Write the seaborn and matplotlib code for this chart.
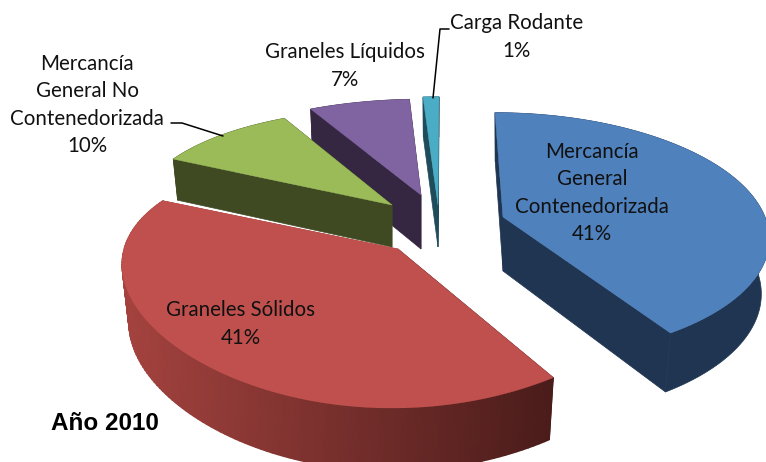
import numpy as np
import matplotlib
matplotlib.use("Agg")
import matplotlib.pyplot as plt
from matplotlib.colors import LinearSegmentedColormap
import seaborn as sns

# Data
categories = ["Mercancía\nGeneral\nContenedorizada", "Graneles Sólidos",
              "Mercancía\nGeneral No\nContenedorizada", "Graneles Líquidos", "Carga Rodante"]
values = [41, 41, 10, 7, 1]
chart_title = "Año 2010"

# Styles
top_colors = ["#4F81BD", "#C0504D", "#9BBB59", "#8064A2", "#4BACC6"]
side_left = ["#1F3552", "#A5433F", "#3F4A23", "#352742", "#1F4C5A"]
side_right = ["#1F3552", "#4A1C1A", "#3F4A23", "#352742", "#1F4C5A"]

# Layout: projection of each exploded slice
# (apex x, apex y, A, kx, C, B, ky, depth, depth perspective, bottom x scale)
proj = [
    (503, 217, 262, .15, -8, 120, .15, 54, .10, .97),
    (398, 249, 274, .10, 6, 124, .22, 58, .08, .975),
    (392, 205, 255, .10, 6, 118, .22, 42, .05, .98),
    (421, 195, 255, .10, 3, 117, .22, 54, .05, .98),
    (438, 205, 280, .10, 1, 132, .22, 42, .05, .98),
]
label_pos = [(592, 193), (241, 324), (87, 105), (345, 66), (517, 37)]

sns.set_theme(style="white")
plt.rcParams["font.family"] = ["Lato", "DejaVu Sans"]

fig, ax = plt.subplots(figsize=(7.66, 4.62), dpi=100)
fig.subplots_adjust(0, 0, 1, 1)


def project(p, th, r=1.0, bottom=False):
    ax0, ay0, A, kx, C, B, ky, D, kd, s = p
    x, y = r * np.sin(th), r * np.cos(th)
    px = A * x / (1 + kx * y) + C * y
    py = -B * y / (1 + ky * y)
    if bottom:
        return ax0 + s * px, ay0 + py + D / (1 + kd * y)
    return ax0 + px, ay0 + py


fractions = np.array(values, dtype=float) / np.sum(values)
edges = np.concatenate([[0], np.cumsum(fractions)]) * 2 * np.pi

for i in reversed(range(len(values))):
    p = proj[i]
    z = i * -3 + 20
    th = np.linspace(edges[i], edges[i + 1], 121)
    tx, ty = project(p, th)
    bx, by = project(p, th, bottom=True)
    apex_t = project(p, 0.0, 0.0)
    apex_b = project(p, 0.0, 0.0, bottom=True)
    # radial faces
    for k in (0, -1):
        ax.fill([apex_t[0], tx[k], bx[k], apex_b[0]], [apex_t[1], ty[k], by[k], apex_b[1]],
                color=side_right[i] if k == 0 else side_left[i], lw=0.5, zorder=z)
    # rim, shaded from left to right
    if side_left[i] == side_right[i]:
        ax.fill(np.r_[tx, bx[::-1]], np.r_[ty, by[::-1]], color=side_left[i], lw=0.5, zorder=z + 1)
    else:
        cmap = LinearSegmentedColormap.from_list("rim", [side_left[i], side_right[i]])
        X = np.vstack([tx, bx])
        Y = np.vstack([ty, by])
        ax.pcolormesh(X, Y, X, shading="gouraud", cmap=cmap, zorder=z + 1, rasterized=True)
    # top surface
    ax.fill(np.r_[apex_t[0], tx], np.r_[apex_t[1], ty], color=top_colors[i], lw=0.3, zorder=z + 2)

# Labels
for name, v, (lx, ly) in zip(categories, values, label_pos):
    ax.text(lx, ly, f"{name}\n{v}%", ha="center", va="center", multialignment="center",
            fontsize=14.8, color="#111111", linespacing=1.45, zorder=40)

ax.text(105, 423, chart_title, ha="center", va="center", fontsize=17.5, fontweight="bold",
        family=["Liberation Sans"], color="black", zorder=40)

# Leader lines
ax.plot([433, 440, 449], [98, 29, 29], color="black", lw=1.1, zorder=39)
ax.plot([171, 182, 223], [123, 123, 136], color="black", lw=1.1, zorder=39)

ax.set_xlim(0, 766)
ax.set_ylim(462, 0)
ax.axis("off")

fig.savefig("out.png", dpi=100)
